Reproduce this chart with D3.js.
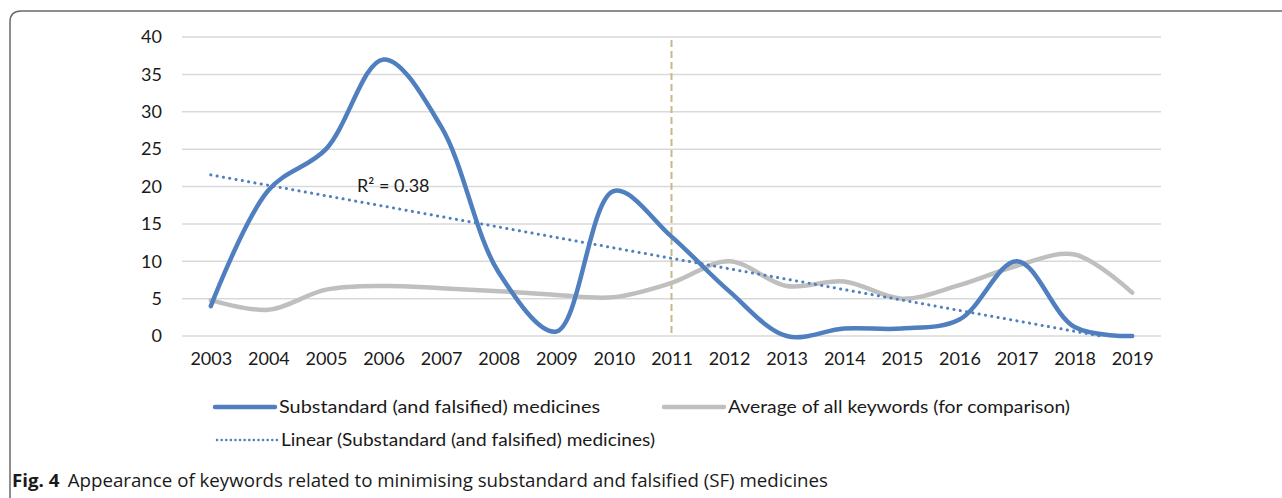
<!DOCTYPE html>
<html>
<head>
<meta charset="utf-8">
<script src="https://cdn.jsdelivr.net/npm/d3@7"></script>
<style>
  body { margin: 0; background: #fff; }
  svg text { font-family: Lato, "Open Sans", sans-serif; fill: #1a1a1a; }
</style>
</head>
<body>
<svg id="chart" width="1282" height="498"></svg>
<script>
// data
const years = ["2003","2004","2005","2006","2007","2008","2009","2010","2011",
  "2012","2013","2014","2015","2016","2017","2018","2019"];
const substandard = [4, 19.5, 25, 37, 28, 8.5, 0.6, 19.4, 13.3, 6, 0, 1, 1, 2.2, 10, 1.2, 0];
const average = [4.8, 3.5, 6.2, 6.7, 6.4, 6, 5.5, 5.2, 7.1, 10, 6.7, 7.3, 5, 6.8, 9.4, 10.9, 5.8];
const yTicks = [0, 5, 10, 15, 20, 25, 30, 35, 40];
const markerYear = "2011";
const r2Label = "R² = 0.38";
const seriesNames = ["Substandard (and falsified) medicines",
  "Average of all keywords (for comparison)",
  "Linear (Substandard (and falsified) medicines)"];

const blue = "#4f7fbf", grey = "#bfbfbf";
const svg = d3.select("#chart");

// frame around the figure
svg.append("path")
  .attr("d", "M10,498 V22 Q10,11 21,11 H1282")
  .attr("fill", "none").attr("stroke", "#6b6b6b").attr("stroke-width", 1.5);

const x = d3.scalePoint().domain(years).range([182, 1161]).padding(0.5);
const y = d3.scaleLinear().domain([0, 40]).range([336, 37]);

// gridlines
svg.append("g").selectAll("line").data(yTicks).join("line")
  .attr("x1", 182).attr("x2", 1161)
  .attr("y1", d => y(d)).attr("y2", d => y(d))
  .attr("stroke", "#d9d9d9").attr("stroke-width", 1.5);

// y axis labels
const yAxis = svg.append("g").attr("transform", "translate(170,0)")
  .call(d3.axisLeft(y).tickValues(yTicks).tickSize(0).tickPadding(8));
yAxis.select(".domain").remove();
yAxis.selectAll("text").style("font-size", "18px").attr("fill", "#1a1a1a");

// x axis labels
const xAxis = svg.append("g").attr("transform", "translate(0,352)")
  .call(d3.axisBottom(x).tickSize(0).tickPadding(0));
xAxis.select(".domain").remove();
xAxis.selectAll("text").style("font-size", "18px").attr("fill", "#1a1a1a")
  .attr("dy", "0.71em");

// dashed marker at 2011
svg.append("line")
  .attr("x1", x(markerYear)).attr("x2", x(markerYear))
  .attr("y1", 40).attr("y2", 336)
  .attr("stroke", "#c8b98c").attr("stroke-width", 2)
  .attr("stroke-dasharray", "7,4");

const line = d3.line()
  .x((d, i) => x(years[i]))
  .y(d => y(d))
  .curve(d3.curveCatmullRom.alpha(0.5));

svg.append("path").datum(average)
  .attr("d", line).attr("fill", "none")
  .attr("stroke", grey).attr("stroke-width", 4.5).attr("stroke-linecap", "round");

svg.append("path").datum(substandard)
  .attr("d", line).attr("fill", "none")
  .attr("stroke", blue).attr("stroke-width", 4.5).attr("stroke-linecap", "round");

// linear trend of the blue series, clipped where it meets 0
const idx = substandard.map((d, i) => i);
const mx = d3.mean(idx), my = d3.mean(substandard);
const slope = d3.sum(idx, i => (i - mx) * (substandard[i] - my)) /
  d3.sum(idx, i => (i - mx) * (i - mx));
const icpt = my - slope * mx;
const iZero = -icpt / slope;
const step = x.step();
svg.append("line")
  .attr("x1", x(years[0])).attr("y1", y(icpt))
  .attr("x2", x(years[0]) + iZero * step).attr("y2", y(0))
  .attr("stroke", blue).attr("stroke-width", 3)
  .attr("stroke-dasharray", "0.1,6.3").attr("stroke-linecap", "round");

svg.append("text").attr("x", 357).attr("y", 192)
  .style("font-size", "18px").text(r2Label);

// legend
const legend = svg.append("g");
const items = [
  { x: 215, y: 407, color: blue, dash: null, w: 4.5, label: seriesNames[0], tw: 321 },
  { x: 664, y: 407, color: grey, dash: null, w: 4.5, label: seriesNames[1], tw: 342 },
  { x: 217, y: 440, color: blue, dash: "0.1,4.5", w: 2.5, label: seriesNames[2], tw: 374 }
];
items.forEach(it => {
  legend.append("line")
    .attr("x1", it.x).attr("x2", it.x + 60)
    .attr("y1", it.y).attr("y2", it.y)
    .attr("stroke", it.color).attr("stroke-width", it.w)
    .attr("stroke-linecap", "round")
    .attr("stroke-dasharray", it.dash);
  legend.append("text").attr("x", it.x + 64).attr("y", it.y + 6)
    .style("font-size", "18px")
    .attr("textLength", it.tw).attr("lengthAdjust", "spacingAndGlyphs")
    .text(it.label);
});

// caption
const cap = svg.append("text").attr("x", 12).attr("y", 487)
  .style("font-size", "18px").style("font-family", "'Open Sans', sans-serif")
  .attr("textLength", 816).attr("lengthAdjust", "spacingAndGlyphs");
cap.append("tspan").style("font-weight", "bold").text("Fig. 4");
cap.append("tspan").attr("dx", 8)
  .text("Appearance of keywords related to minimising substandard and falsified (SF) medicines");
</script>
</body>
</html>
